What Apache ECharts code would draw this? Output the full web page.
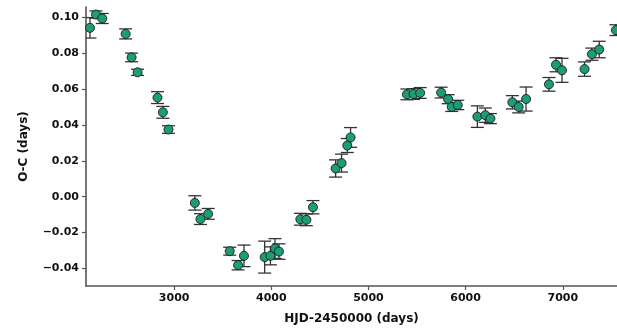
<!DOCTYPE html>
<html><head><meta charset="utf-8">
<script src="https://cdn.jsdelivr.net/npm/echarts@6/dist/echarts.min.js"></script>
<style>html,body{margin:0;padding:0;background:#fff}#c{width:617px;height:330px}</style>
</head><body><div id="c"></div>
<script>
var days = [2134,2196,2260,2501,2562,2624,2829,2884,2942,3213,3271,3350,3572,3658,3719,3932,3991,4038,4079,4299,4361,4429,4662,4723,4782,4816,5396,5464,5532,5748,5820,5857,5919,6121,6203,6255,6481,6546,6622,6858,6930,6992,7224,7300,7375,7547];
var oc = [0.0941,0.1015,0.0993,0.0907,0.0776,0.0693,0.0552,0.0470,0.0374,-0.0035,-0.0125,-0.0096,-0.0304,-0.0382,-0.0330,-0.0337,-0.0330,-0.0289,-0.0306,-0.0126,-0.0129,-0.0059,0.0157,0.0187,0.0285,0.0330,0.0570,0.0572,0.0578,0.0580,0.0543,0.0500,0.0511,0.0446,0.0454,0.0435,0.0526,0.0500,0.0544,0.0626,0.0735,0.0704,0.0711,0.0794,0.0820,0.0928];
var err = [0.0057,0.0020,0.0028,0.0028,0.0024,0.0017,0.0033,0.0033,0.0021,0.0040,0.0030,0.0030,0.0022,0.0026,0.0060,0.0089,0.0050,0.0055,0.0043,0.0033,0.0033,0.0037,0.0048,0.0050,0.0039,0.0055,0.0030,0.0030,0.0030,0.0030,0.0025,0.0025,0.0026,0.0060,0.0040,0.0028,0.0037,0.0033,0.0067,0.0038,0.0039,0.0067,0.0040,0.0034,0.0046,0.0030];
var xTicks = [3000,4000,5000,6000,7000];
var yTicks = [-0.04,-0.02,0.00,0.02,0.04,0.06,0.08,0.10];

var pts = days.map(function(d,i){return [d, oc[i]];});
var ebars = days.map(function(d,i){return [d, oc[i]-err[i], oc[i]+err[i]];});
var FONT = 'DejaVu Sans';
var chart = echarts.init(document.getElementById('c'), null, {renderer:'canvas'});
chart.setOption({
  animation:false,
  grid:{left:86, right:0, top:7, bottom:43, containLabel:false},
  xAxis:{type:'value', min:2093, max:7558,
    name:'HJD-2450000 (days)', nameLocation:'middle', nameGap:27,
    nameTextStyle:{fontFamily:FONT, fontWeight:'bold', fontSize:12, color:'#111'},
    axisLine:{onZero:false, lineStyle:{color:'#555', width:1.6}},
    axisTick:{show:true, length:4, inside:false, customValues:xTicks, lineStyle:{color:'#555', width:1.2}},
    axisLabel:{customValues:xTicks, fontFamily:FONT, fontWeight:'bold', fontSize:11, color:'#111', margin:7,
      formatter:function(v){return String(Math.round(v));}},
    splitLine:{show:false}},
  yAxis:{type:'value', min:-0.0498, max:0.1057,
    name:'O-C (days)', nameLocation:'middle', nameGap:56, nameRotate:90,
    nameTextStyle:{fontFamily:FONT, fontWeight:'bold', fontSize:12, color:'#111'},
    axisLine:{show:true, onZero:false, lineStyle:{color:'#555', width:1.6}},
    axisTick:{show:true, length:4, customValues:yTicks, lineStyle:{color:'#555', width:1.2}},
    axisLabel:{customValues:yTicks, fontFamily:FONT, fontWeight:'bold', fontSize:11, color:'#111', margin:7,
      formatter:function(v){var s=Math.abs(v).toFixed(2); return (v< -1e-9?'\u2212':'')+s;}},
    splitLine:{show:false}},
  series:[
    {type:'custom', data:ebars, clip:true, z:1,
     renderItem:function(params, api){
       var x=api.value(0), lo=api.value(1), hi=api.value(2);
       var pL=api.coord([x,lo]), pH=api.coord([x,hi]);
       var w=6.5;
       var st={stroke:'#333', lineWidth:1.3};
       return {type:'group', children:[
         {type:'line', shape:{x1:pL[0],y1:pL[1],x2:pH[0],y2:pH[1]}, style:st},
         {type:'line', shape:{x1:pL[0]-w,y1:pL[1],x2:pL[0]+w,y2:pL[1]}, style:st},
         {type:'line', shape:{x1:pH[0]-w,y1:pH[1],x2:pH[0]+w,y2:pH[1]}, style:st}
       ]};
     }},
    {type:'scatter', data:pts, symbol:'circle', symbolSize:9, z:2, clip:true,
     itemStyle:{color:'#1b9e77', borderColor:'#1a1a1a', borderWidth:0.9, opacity:1}}
  ]
});
</script></body></html>
